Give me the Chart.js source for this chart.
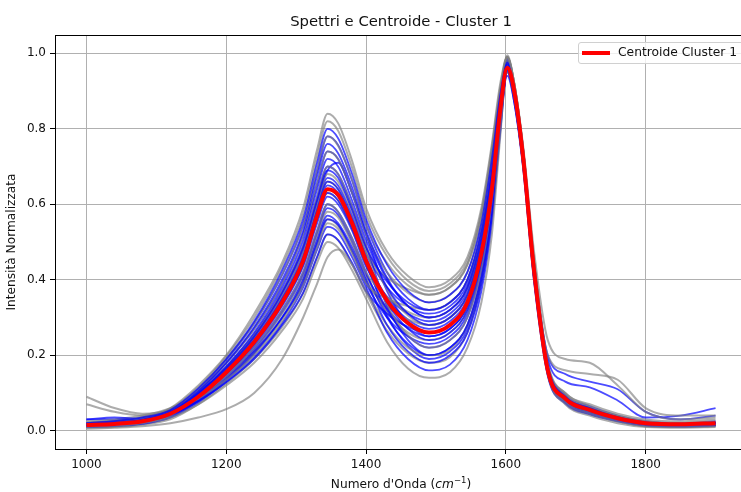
<!DOCTYPE html>
<html>
<head>
<meta charset="utf-8">
<script src="https://cdn.jsdelivr.net/npm/chart.js@4/dist/chart.umd.min.js"></script>
<style>
  body { margin: 0; background: #fff; font-family: "DejaVu Sans", sans-serif; color: #111; }
  #wrap { position: relative; width: 741px; height: 492px; overflow: hidden; }
  #chart { position: absolute; left: 0; top: 0; }
  .title { position: absolute; left: 0; width: 802px; top: 12px; text-align: center; font-size: 14.8px; }
  .xlabel { position: absolute; left: 0; width: 802px; top: 475px; text-align: center; font-size: 12.2px; }
  .xlabel sup { font-size: 8.5px; vertical-align: 5px; }
  .legend { position: absolute; left: 578px; top: 42px; width: 180px; height: 20px; border: 1px solid #d0d0d0; border-radius: 3px; background: rgba(255,255,255,0.8); }
  .legend .swatch { position: absolute; left: 3px; top: 8px; width: 28px; height: 4px; background: #ff0000; }
  .legend .txt { position: absolute; left: 39px; top: 2px; font-size: 12.3px; }
</style>
</head>
<body>
<div id="wrap">
  <canvas id="chart" width="750" height="492" style="width:750px;height:492px"></canvas>
  <div class="title">Spettri e Centroide - Cluster 1</div>
  <div class="xlabel">Numero d'Onda (<i>cm</i><sup>−1</sup>)</div>
  <div class="legend"><div class="swatch"></div><div class="txt">Centroide Cluster 1</div></div>
</div>
<script>
const wavenumbers = [1000, 1040, 1080, 1120, 1160, 1200, 1240, 1280, 1310, 1330, 1345, 1360, 1380, 1400, 1430, 1460, 1490, 1520, 1545, 1565, 1580, 1592, 1602, 1612, 1625, 1640, 1660, 1685, 1720, 1760, 1800, 1850, 1900];
const xTicks = [1000, 1200, 1400, 1600, 1800];
const yTicks = [0.0, 0.2, 0.4, 0.6, 0.8, 1.0];

const centroid = [0.015,0.018,0.025,0.045,0.09,0.155,0.235,0.34,0.45,0.57,0.64,0.625,0.55,0.45,0.345,0.285,0.26,0.28,0.34,0.47,0.64,0.85,0.962,0.90,0.72,0.43,0.16,0.085,0.055,0.033,0.02,0.017,0.02];

// spettri grigi
const g01 = [0.02,0.025,0.035,0.06,0.12,0.20,0.31,0.445,0.59,0.745,0.84,0.815,0.715,0.59,0.475,0.41,0.38,0.40,0.46,0.59,0.76,0.92,0.99,0.92,0.74,0.45,0.17,0.09,0.06,0.035,0.02,0.015,0.018];
const g02 = [0.01,0.012,0.02,0.035,0.07,0.12,0.18,0.265,0.35,0.445,0.50,0.485,0.425,0.35,0.235,0.165,0.14,0.155,0.22,0.34,0.52,0.78,0.97,0.89,0.70,0.41,0.15,0.075,0.045,0.025,0.012,0.01,0.012];
const g03 = [0.015,0.02,0.03,0.05,0.105,0.18,0.27,0.39,0.52,0.655,0.74,0.72,0.63,0.52,0.42,0.365,0.34,0.36,0.42,0.55,0.72,0.89,0.98,0.91,0.73,0.44,0.17,0.09,0.06,0.035,0.02,0.016,0.02];
const g04 = [0.09,0.06,0.045,0.055,0.09,0.145,0.22,0.32,0.42,0.53,0.60,0.58,0.51,0.42,0.355,0.315,0.30,0.32,0.38,0.51,0.68,0.88,0.995,0.92,0.74,0.45,0.17,0.09,0.06,0.04,0.025,0.02,0.025];
const g05 = [0.012,0.015,0.022,0.04,0.095,0.165,0.25,0.36,0.475,0.60,0.68,0.66,0.58,0.475,0.335,0.253,0.22,0.24,0.30,0.43,0.61,0.83,0.96,0.89,0.71,0.42,0.155,0.08,0.05,0.03,0.018,0.015,0.018];
const g06 = [0.02,0.022,0.03,0.05,0.085,0.135,0.20,0.29,0.385,0.485,0.55,0.535,0.47,0.39,0.35,0.33,0.32,0.34,0.40,0.53,0.70,0.88,0.985,0.92,0.75,0.48,0.24,0.19,0.18,0.12,0.05,0.03,0.035];
const g07 = [0.07,0.05,0.04,0.055,0.10,0.17,0.255,0.37,0.49,0.62,0.70,0.68,0.595,0.49,0.375,0.305,0.28,0.30,0.36,0.49,0.66,0.85,0.95,0.88,0.70,0.42,0.16,0.085,0.055,0.035,0.02,0.015,0.02];
const g08 = [0.005,0.008,0.012,0.02,0.035,0.057,0.10,0.19,0.30,0.39,0.46,0.48,0.44,0.37,0.28,0.22,0.20,0.215,0.28,0.41,0.59,0.82,0.975,0.90,0.71,0.42,0.15,0.07,0.04,0.02,0.01,0.008,0.01];
const g09 = [0.018,0.022,0.032,0.055,0.11,0.19,0.285,0.415,0.545,0.69,0.78,0.755,0.665,0.545,0.445,0.385,0.36,0.38,0.44,0.57,0.74,0.90,0.99,0.92,0.74,0.45,0.175,0.10,0.065,0.04,0.025,0.02,0.022];
const g10 = [0.015,0.018,0.025,0.045,0.09,0.15,0.23,0.335,0.44,0.56,0.63,0.61,0.535,0.44,0.34,0.283,0.26,0.28,0.34,0.47,0.64,0.85,0.97,0.90,0.73,0.45,0.20,0.16,0.15,0.135,0.06,0.04,0.04];
const g11 = [0.01,0.012,0.018,0.035,0.08,0.14,0.21,0.31,0.405,0.515,0.58,0.565,0.495,0.405,0.315,0.26,0.24,0.26,0.32,0.45,0.63,0.85,0.99,0.91,0.73,0.44,0.165,0.08,0.05,0.03,0.015,0.012,0.015];
const g12 = [0.025,0.03,0.04,0.06,0.10,0.16,0.24,0.35,0.46,0.585,0.66,0.64,0.56,0.47,0.405,0.375,0.36,0.38,0.44,0.57,0.74,0.90,0.98,0.91,0.74,0.46,0.18,0.10,0.07,0.045,0.03,0.025,0.03];
const g13 = [0.008,0.01,0.016,0.03,0.07,0.125,0.19,0.275,0.365,0.46,0.52,0.505,0.44,0.365,0.265,0.205,0.18,0.195,0.26,0.39,0.57,0.80,0.96,0.88,0.70,0.41,0.15,0.075,0.045,0.025,0.012,0.01,0.012];
const g14 = [0.022,0.026,0.036,0.058,0.115,0.197,0.30,0.435,0.574,0.726,0.82,0.795,0.697,0.574,0.462,0.397,0.37,0.39,0.45,0.58,0.75,0.91,0.99,0.92,0.74,0.45,0.175,0.095,0.062,0.038,0.022,0.018,0.02];
const g15 = [0.014,0.017,0.024,0.042,0.078,0.134,0.204,0.297,0.392,0.496,0.56,0.543,0.476,0.392,0.33,0.295,0.28,0.30,0.36,0.49,0.66,0.87,0.98,0.91,0.73,0.44,0.165,0.085,0.055,0.033,0.02,0.016,0.02];

// spettri blu
const b01 = [0.02,0.025,0.035,0.055,0.112,0.19,0.29,0.425,0.56,0.71,0.80,0.775,0.68,0.56,0.44,0.37,0.34,0.36,0.42,0.55,0.72,0.89,0.97,0.90,0.72,0.44,0.17,0.09,0.06,0.035,0.02,0.018,0.02];
const b02 = [0.018,0.022,0.03,0.05,0.105,0.18,0.275,0.40,0.53,0.675,0.76,0.735,0.645,0.53,0.405,0.33,0.30,0.32,0.38,0.51,0.68,0.87,0.975,0.90,0.72,0.43,0.165,0.088,0.058,0.035,0.02,0.017,0.02];
const b03 = [0.015,0.02,0.028,0.048,0.10,0.17,0.26,0.38,0.505,0.64,0.72,0.70,0.61,0.505,0.38,0.31,0.28,0.30,0.36,0.49,0.66,0.86,0.96,0.89,0.71,0.42,0.16,0.085,0.055,0.033,0.02,0.016,0.02];
const b04 = [0.02,0.024,0.032,0.052,0.10,0.165,0.25,0.365,0.485,0.61,0.69,0.67,0.585,0.485,0.395,0.34,0.32,0.34,0.40,0.53,0.70,0.88,0.98,0.91,0.73,0.44,0.17,0.09,0.06,0.036,0.022,0.018,0.022];
const b05 = [0.014,0.018,0.025,0.045,0.095,0.16,0.24,0.35,0.46,0.585,0.66,0.64,0.56,0.46,0.34,0.27,0.24,0.26,0.32,0.45,0.62,0.84,0.965,0.89,0.71,0.42,0.16,0.083,0.053,0.032,0.018,0.015,0.018];
const b06 = [0.03,0.035,0.032,0.048,0.09,0.15,0.23,0.335,0.44,0.56,0.63,0.61,0.535,0.44,0.32,0.25,0.22,0.24,0.30,0.43,0.60,0.82,0.955,0.88,0.70,0.41,0.155,0.08,0.05,0.03,0.017,0.014,0.017];
const b07 = [0.012,0.015,0.022,0.04,0.085,0.145,0.22,0.32,0.42,0.53,0.60,0.58,0.51,0.42,0.30,0.23,0.20,0.22,0.28,0.41,0.59,0.82,0.97,0.89,0.71,0.42,0.155,0.078,0.048,0.028,0.015,0.012,0.015];
const b08 = [0.01,0.013,0.02,0.038,0.08,0.137,0.21,0.30,0.40,0.505,0.57,0.55,0.485,0.40,0.28,0.21,0.18,0.20,0.26,0.39,0.57,0.80,0.96,0.88,0.70,0.41,0.15,0.075,0.045,0.026,0.014,0.011,0.014];
const b09 = [0.01,0.012,0.018,0.035,0.075,0.13,0.195,0.285,0.38,0.48,0.54,0.525,0.46,0.38,0.26,0.19,0.16,0.175,0.24,0.37,0.55,0.79,0.95,0.87,0.69,0.40,0.145,0.072,0.043,0.025,0.013,0.01,0.013];
const b10 = [0.015,0.018,0.025,0.042,0.078,0.128,0.19,0.28,0.365,0.46,0.52,0.505,0.445,0.37,0.31,0.275,0.26,0.28,0.34,0.47,0.65,0.86,0.98,0.91,0.73,0.44,0.165,0.085,0.055,0.033,0.02,0.016,0.02];
const b11 = [0.012,0.016,0.024,0.043,0.098,0.168,0.255,0.37,0.49,0.62,0.70,0.68,0.595,0.49,0.33,0.24,0.20,0.22,0.28,0.41,0.59,0.81,0.95,0.88,0.71,0.43,0.20,0.15,0.13,0.11,0.05,0.03,0.04];
const b12 = [0.018,0.02,0.028,0.048,0.09,0.15,0.225,0.33,0.435,0.55,0.62,0.60,0.53,0.435,0.355,0.31,0.29,0.31,0.37,0.50,0.67,0.87,0.975,0.90,0.73,0.45,0.19,0.13,0.115,0.08,0.035,0.04,0.06];
const b13 = [0.015,0.02,0.028,0.048,0.104,0.178,0.27,0.39,0.52,0.655,0.74,0.72,0.63,0.52,0.37,0.285,0.25,0.27,0.33,0.46,0.63,0.83,0.94,0.87,0.70,0.42,0.16,0.085,0.055,0.033,0.02,0.016,0.02];
const b14 = [0.03,0.03,0.03,0.045,0.08,0.135,0.205,0.30,0.39,0.495,0.56,0.545,0.475,0.39,0.30,0.25,0.23,0.25,0.31,0.44,0.62,0.84,0.965,0.89,0.71,0.42,0.16,0.08,0.05,0.03,0.016,0.013,0.016];
const b15 = [0.02,0.024,0.032,0.05,0.095,0.16,0.245,0.355,0.47,0.595,0.67,0.65,0.57,0.47,0.38,0.33,0.31,0.33,0.39,0.52,0.69,0.88,0.985,0.91,0.74,0.45,0.175,0.095,0.065,0.04,0.025,0.02,0.025];
const b16 = [0.02,0.024,0.034,0.055,0.109,0.187,0.285,0.413,0.546,0.69,0.78,0.757,0.663,0.546,0.42,0.35,0.32,0.34,0.40,0.53,0.70,0.88,0.985,0.91,0.73,0.44,0.17,0.09,0.06,0.036,0.021,0.017,0.02];
const b17 = [0.016,0.02,0.027,0.046,0.091,0.156,0.237,0.345,0.455,0.575,0.65,0.63,0.553,0.455,0.353,0.294,0.27,0.29,0.35,0.48,0.65,0.855,0.97,0.90,0.72,0.43,0.165,0.088,0.057,0.034,0.02,0.016,0.02];
const b18 = [0.013,0.017,0.024,0.042,0.083,0.142,0.215,0.313,0.413,0.522,0.59,0.572,0.50,0.413,0.323,0.271,0.25,0.27,0.33,0.46,0.63,0.84,0.96,0.89,0.71,0.42,0.16,0.082,0.052,0.031,0.018,0.015,0.018];
const b19 = [0.017,0.021,0.029,0.048,0.097,0.165,0.25,0.365,0.48,0.61,0.69,0.71,0.63,0.52,0.40,0.33,0.30,0.32,0.38,0.51,0.68,0.87,0.975,0.90,0.72,0.43,0.165,0.088,0.057,0.034,0.02,0.016,0.02];
const b20 = [0.02,0.026,0.03,0.045,0.09,0.154,0.234,0.34,0.448,0.566,0.64,0.62,0.544,0.448,0.306,0.224,0.19,0.21,0.27,0.40,0.58,0.81,0.955,0.88,0.70,0.41,0.155,0.08,0.05,0.03,0.016,0.013,0.016];

const graySpectra = [g01, g02, g03, g04, g05, g06, g07, g08, g09, g10, g11, g12, g13, g14, g15];
const blueSpectra = [b01, b02, b03, b04, b05, b06, b07, b08, b09, b10, b11, b12, b13, b14, b15, b16, b17, b18, b19, b20];

function toPoints(values) {
  return wavenumbers.map((x, i) => ({ x: x, y: values[i] }));
}

function spectrumDataset(values, color, width) {
  return {
    data: toPoints(values),
    borderColor: color,
    borderWidth: width,
    pointRadius: 0,
    cubicInterpolationMode: 'monotone',
    order: 1
  };
}

const datasets = [{
  label: 'Centroide Cluster 1',
  data: toPoints(centroid),
  borderColor: '#ff0000',
  borderWidth: 4,
  pointRadius: 0,
  cubicInterpolationMode: 'monotone',
  order: 0
}];
const n = Math.max(graySpectra.length, blueSpectra.length);
for (let i = 0; i < n; i++) {
  if (blueSpectra[i]) datasets.push(spectrumDataset(blueSpectra[i], 'rgba(0,0,255,0.7)', 1.8));
  if (graySpectra[i]) datasets.push(spectrumDataset(graySpectra[i], 'rgba(128,128,128,0.65)', 2));
}

const frame = {
  id: 'frame',
  afterDatasetsDraw(chart) {
    const { ctx, chartArea } = chart;
    ctx.save();
    ctx.strokeStyle = '#000';
    ctx.lineWidth = 1;
    ctx.strokeRect(Math.round(chartArea.left) + 0.5, Math.round(chartArea.top) + 0.5,
      Math.round(chartArea.right - chartArea.left), Math.round(chartArea.bottom - chartArea.top));
    ctx.restore();
  }
};

const tickFont = { family: 'DejaVu Sans', size: 12 };
const labelFont = { family: 'DejaVu Sans', size: 12.2 };

new Chart(document.getElementById('chart'), {
  type: 'line',
  data: { datasets },
  plugins: [frame],
  options: {
    responsive: false,
    animation: false,
    layout: { padding: { top: 35, right: 3, left: 0, bottom: 0 } },
    plugins: { legend: { display: false }, title: { display: false }, tooltip: { enabled: false } },
    scales: {
      x: {
        type: 'linear',
        min: 955,
        max: 1945,
        afterBuildTicks: scale => { scale.ticks = xTicks.map(v => ({ value: v })); },
        afterFit: scale => { scale.height = 43; },
        border: { display: false },
        grid: { color: '#b0b0b0', lineWidth: 1, tickLength: 5, tickColor: '#000' },
        ticks: { font: tickFont, color: '#111', padding: 4, maxRotation: 0, callback: v => String(v) }
      },
      y: {
        min: -0.0485,
        max: 1.0485,
        afterBuildTicks: scale => { scale.ticks = yTicks.map(v => ({ value: v })); },
        afterFit: scale => { scale.width = 55; },
        border: { display: false },
        grid: { color: '#b0b0b0', lineWidth: 1, tickLength: 5, tickColor: '#000' },
        ticks: { font: tickFont, color: '#111', padding: 4, callback: v => v.toFixed(1) },
        title: { display: true, text: 'Intensità Normalizzata', font: labelFont, color: '#111', padding: { top: 5, bottom: 0 } }
      }
    }
  }
});
</script>
</body>
</html>
